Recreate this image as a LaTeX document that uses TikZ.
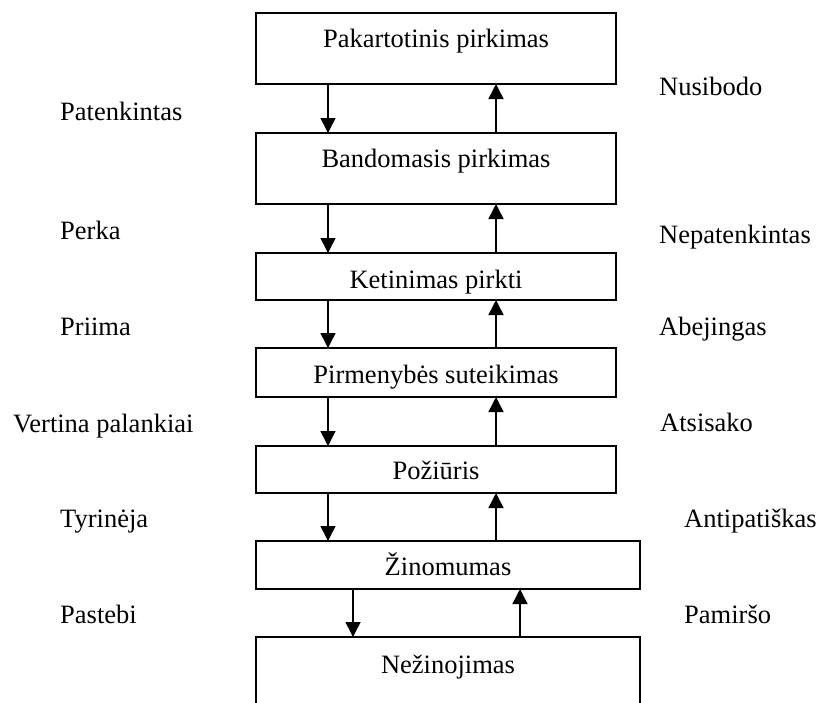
\documentclass[tikz,border=0pt]{standalone}
\usepackage{fontspec}
\setmainfont{Liberation Serif}
\usetikzlibrary{arrows.meta}
\begin{document}
\begin{tikzpicture}[x=1pt,y=-1pt,
  stage/.style={draw, line width=1.5pt, inner sep=0pt, outer sep=0pt},
  txt/.style={anchor=base, inner sep=0pt, font=\fontsize{26.5}{30}\selectfont},
  side/.style={anchor=base west, inner sep=0pt, font=\fontsize{26.5}{30}\selectfont},
  flow/.style={line width=1.5pt, -{Triangle[width=15pt,length=15pt]}}]
\useasboundingbox (0,0) rectangle (819,702);
\clip (0,0) rectangle (819,702);

% stage boxes
\node[stage, minimum width=360pt, minimum height=71pt] (b1) at (436,48.5) {};
\node[stage, minimum width=360pt, minimum height=71pt] (b2) at (436,168.5) {};
\node[stage, minimum width=360pt, minimum height=47pt] (b3) at (436,276.5) {};
\node[stage, minimum width=360pt, minimum height=49pt] (b4) at (436,372.5) {};
\node[stage, minimum width=360pt, minimum height=47pt] (b5) at (436,469.5) {};
\node[stage, minimum width=384pt, minimum height=48pt] (b6) at (448,565) {};
\node[stage, minimum width=384pt, minimum height=90pt] (b7) at (448,682) {};

% stage titles
\node[txt] (t1) at (436,47) {Pakartotinis pirkimas};
\node[txt] (t2) at (436,167) {Bandomasis pirkimas};
\node[txt] (t3) at (436,288) {Ketinimas pirkti};
\node[txt] (t4) at (436,383) {Pirmenybės suteikimas};
\node[txt] (t5) at (436,479) {Požiūris};
\node[txt] (t6) at (448,575) {Žinomumas};
\node[txt] (t7) at (448,673) {Nežinojimas};

% arrow columns
\coordinate (dn) at (328,0);
\coordinate (up) at (496,0);
\coordinate (dnb) at (353,0);
\coordinate (upb) at (520,0);

% forward (down) and backward (up) transitions
\foreach \a/\b in {b1/b2,b2/b3,b3/b4,b4/b5,b5/b6}{
  \draw[flow] (\a.south -| dn) -- (\b.north -| dn);
  \draw[flow] (\b.north -| up) -- (\a.south -| up);
}
\draw[flow] (b6.south -| dnb) -- (b7.north -| dnb);
\draw[flow] (b7.north -| upb) -- (b6.south -| upb);

% left-hand labels
\node[side] (l1) at (60,120) {Patenkintas};
\node[side] (l2) at (60,239) {Perka};
\node[side] (l3) at (60,335) {Priima};
\node[side] (l4) at (13,432) {Vertina palankiai};
\node[side] (l5) at (60,527) {Tyrinėja};
\node[side] (l6) at (60,623) {Pastebi};

% right-hand labels
\node[side] (r1) at (659,95) {Nusibodo};
\node[side] (r2) at (659,243) {Nepatenkintas};
\node[side] (r3) at (659,335) {Abejingas};
\node[side] (r4) at (660,431) {Atsisako};
\node[side] (r5) at (684,527) {Antipatiškas};
\node[side] (r6) at (684,623) {Pamiršo};
\end{tikzpicture}
\end{document}
